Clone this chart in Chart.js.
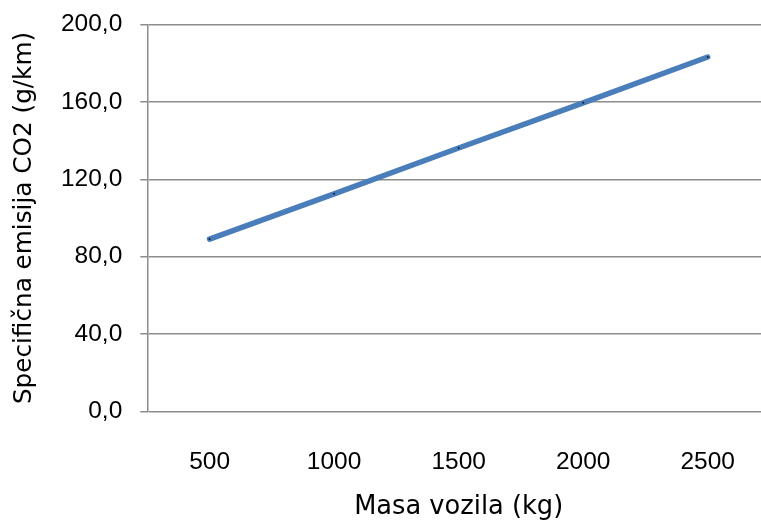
<!DOCTYPE html>
<html><head><meta charset="utf-8">
<script src="https://cdn.jsdelivr.net/npm/chart.js@4"></script>
<style>html,body{margin:0;padding:0;overflow:hidden;background:#fff;width:761px;height:523px}canvas{display:block}</style>
</head><body><canvas id="c" width="774" height="523"></canvas>
<script>
const categories = ['500', '1000', '1500', '2000', '2500'];
const emissions = [89.1, 112.5, 136.2, 159.6, 183.3];
const yTicks = [0, 40, 80, 120, 160, 200];
const xTitle = 'Masa vozila (kg)';
const yTitle = 'Specifična emisija CO2 (g/km)';

const gridColor = '#8c8c8c';
const tickFont = { family: '"Liberation Sans", Arial, sans-serif', size: 24.5 };

new Chart(document.getElementById('c'), {
  type: 'line',
  data: {
    labels: categories,
    datasets: [{
      data: emissions,
      borderColor: '#4A7EBB',
      borderWidth: 5.5,
      borderCapStyle: 'round',
      borderJoinStyle: 'round',
      pointRadius: 1,
      pointBorderWidth: 0,
      pointBackgroundColor: '#1a1a2e',
      tension: 0,
      fill: false
    }]
  },
  options: {
    responsive: false,
    animation: false,
    events: [],
    layout: { padding: { top: 24.7, left: 0, right: 0, bottom: 0 } },
    plugins: { legend: { display: false }, tooltip: { enabled: false } },
    scales: {
      x: {
        type: 'category',
        offset: true,
        grid: { display: false },
        border: { display: false },
        ticks: { font: tickFont, color: '#000', padding: 28, maxRotation: 0 },
        title: {
          display: true, text: xTitle, color: '#000',
          font: { family: '"DejaVu Sans", sans-serif', size: 25.7 },
          padding: { top: 0, bottom: 0 }
        },
        afterFit: s => { s.height = 111.7; s.paddingLeft = 0; s.paddingRight = 0; }
      },
      y: {
        min: yTicks[0],
        max: yTicks[yTicks.length - 1],
        afterBuildTicks: s => { s.ticks = yTicks.map(v => ({ value: v })); },
        grid: { color: gridColor, lineWidth: 1.5, tickLength: 7, drawTicks: true },
        border: { color: gridColor, width: 1.5 },
        ticks: {
          font: tickFont, color: '#000', padding: 18,
          callback: v => Number(v).toFixed(1).replace('.', ',')
        },
        title: {
          display: true, text: yTitle, color: '#000',
          font: { family: '"DejaVu Sans", sans-serif', size: 24.7 },
          padding: { top: 10, bottom: 0 }
        },
        afterFit: s => { s.width = 147.3; s.paddingTop = 0; s.paddingBottom = 0; }
      }
    }
  }
});
</script>
</body></html>
